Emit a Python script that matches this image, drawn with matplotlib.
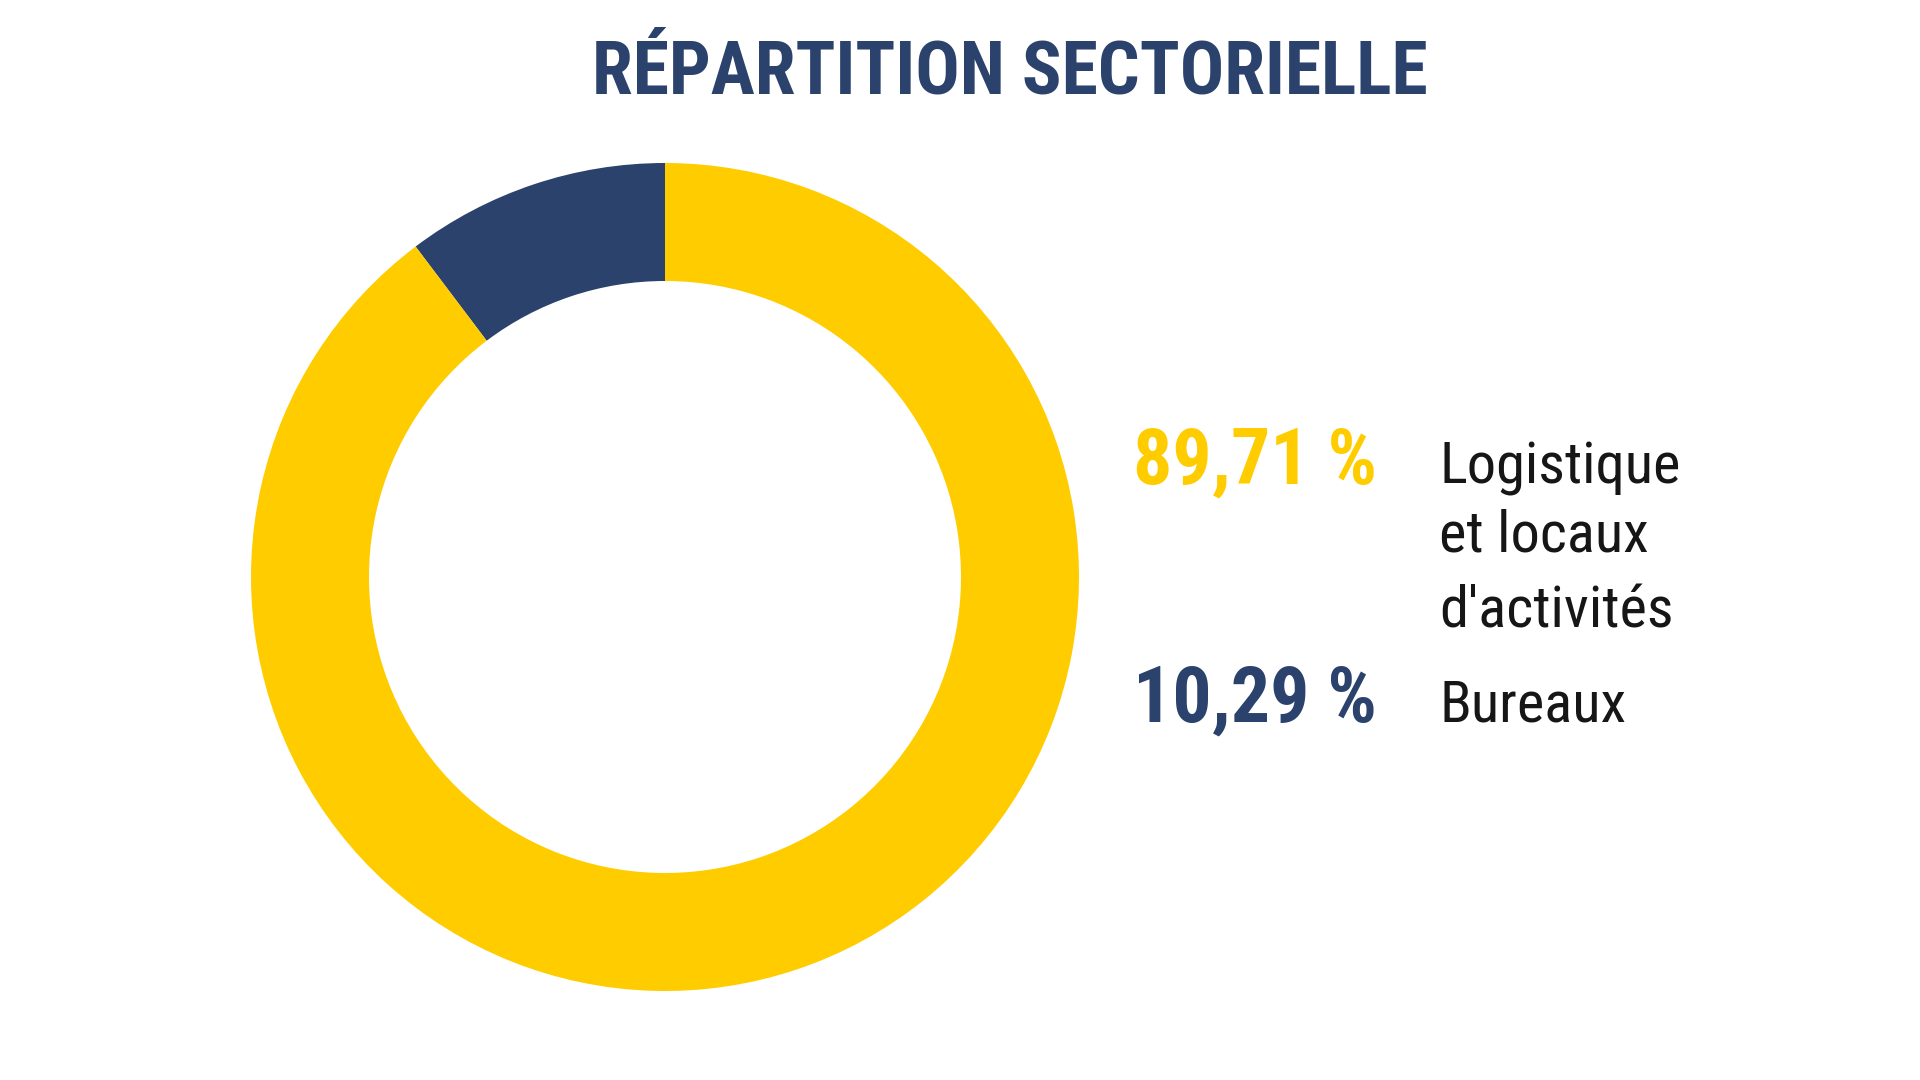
import matplotlib
matplotlib.use("Agg")
from matplotlib import pyplot as plt
from matplotlib import font_manager

# data
categories = ["Bureaux", "Logistique\net locaux\nd'activités"]
shares = [10.29, 89.71]
pct_labels = ["10,29 %", "89,71 %"]
colors = ["#2b426d", "#ffcc00"]
title = "RÉPARTITION SECTORIELLE"

W, H = 1920, 1080

# look for a narrow face, the original uses a condensed geometric sans
installed = {f.name: f.stretch for f in font_manager.fontManager.ttflist}
narrow_name = None
for n in ["Liberation Sans Narrow", "Roboto Condensed", "Open Sans Condensed",
          "Noto Sans Condensed", "DejaVu Sans Condensed", "Arial Narrow"]:
    if n in installed:
        narrow_name = n
        break
if narrow_name is None:
    for n, st in installed.items():
        if "Condensed" in n or "Narrow" in n or st in ("condensed", "semi-condensed"):
            narrow_name = n
            break
if narrow_name is None:
    narrow_name = "Roboto"
fam = [narrow_name, "DejaVu Sans"]


def fx(px):
    return px / W


def fy(py):
    return 1 - py / H


fig = plt.figure(figsize=(19.2, 10.8), dpi=100)
fig.patch.set_facecolor("white")

# donut: centre (665, 577) px, outer radius 414 px
cx, cy, r = 665, 577, 414
ax = fig.add_axes([fx(cx - r), fy(cy + r), 2 * r / W, 2 * r / H])
ax.pie(
    shares,
    colors=colors,
    startangle=90,
    counterclock=True,
    radius=1,
    wedgeprops=dict(width=118 / r, linewidth=0),
)
ax.set_xlim(-1, 1)
ax.set_ylim(-1, 1)
ax.set_aspect("equal")
ax.axis("off")

fig.text(fx(1010), fy(94), title, ha="center", va="baseline",
         fontsize=53, fontweight="bold", color="#2b426d", family=fam,
         fontstretch="condensed")

# legend text, top entry = biggest share
baselines = {1: 484, 0: 722}
line_steps = [0, 67, 144]
for i in [1, 0]:
    y0 = baselines[i]
    fig.text(fx(1377), fy(y0), pct_labels[i], ha="right", va="baseline",
             fontsize=56, fontweight="bold", color=colors[i], family=fam,
             fontstretch="condensed")
    for k, line in enumerate(categories[i].split("\n")):
        fig.text(fx(1439), fy(y0 + line_steps[k]), line, ha="left",
                 va="baseline", fontsize=42, color="#161616", family=fam,
                 fontstretch="condensed")

fig.savefig("out.png", dpi=100, facecolor="white")
